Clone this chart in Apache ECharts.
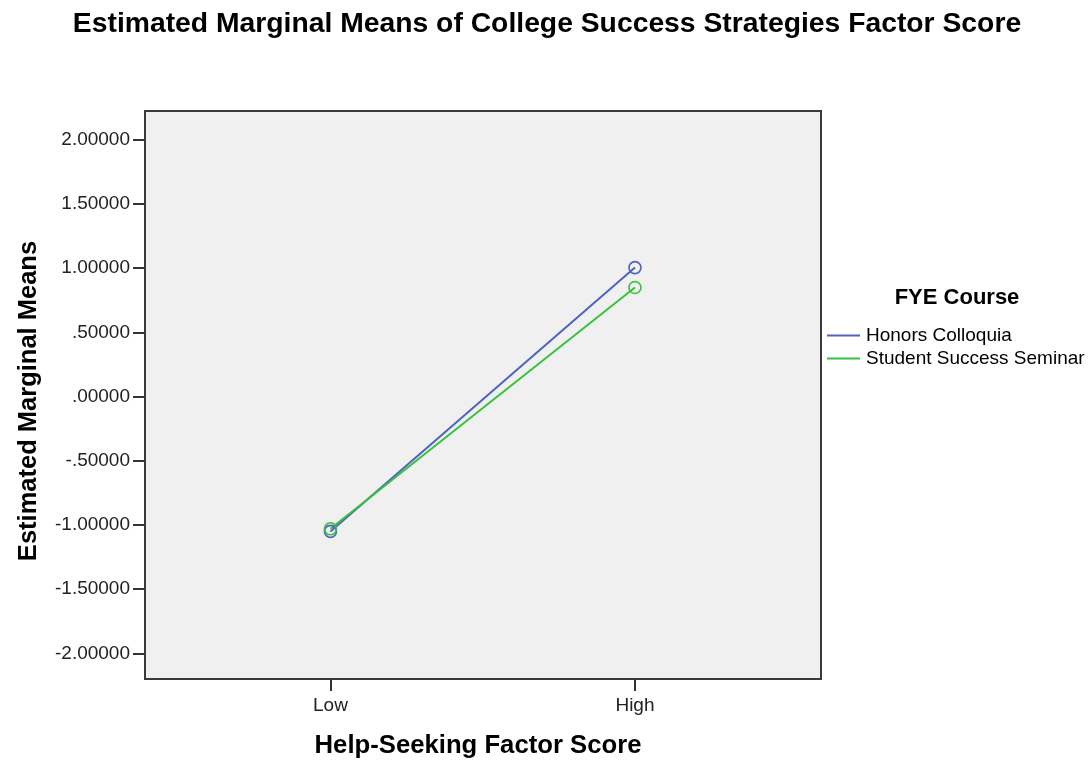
<!DOCTYPE html>
<html>
<head>
<meta charset="utf-8">
<script src="https://cdn.jsdelivr.net/npm/echarts@6/dist/echarts.min.js"></script>
<style>
    html,body{margin:0;padding:0;background:#fff;}
    #chart{width:1092px;height:764px;}
</style>
</head>
<body>
<div id="chart"></div>
<script>
    // data
    var xCategories=['Low','High'];
    var seriesNames=['Honors Colloquia','Student Success Seminar'];
    var honorsMeans=[-1.05,1.005];
    var seminarMeans=[-1.03,0.85];
    var yTicks=[-2,-1.5,-1,-0.5,0,0.5,1,1.5,2];

    var colors=['#4d63bf','#36c23f'];
    var font='"Liberation Sans", Arial, sans-serif';

    function spssFmt(v){
        return v.toFixed(5).replace(/^(-?)0\./,'$1.');
    }
    function toPoints(vals){
        return vals.map(function(v,i){return [i,v];});
    }

    var chart=echarts.init(document.getElementById('chart'));
    var option={
        backgroundColor:'#fff',
        animation:false,
        title:{
            text:'Estimated Marginal Means of College Success Strategies Factor Score',
            left:542,
            textAlign:'center',
            top:5,
            textStyle:{fontFamily:font,fontSize:28.3,fontWeight:'bold',color:'#000'}
        },
        graphic:[{
            type:'text',
            x:957,
            y:298,
            style:{
                text:'FYE Course',
                x:0,y:0,
                align:'center',
                verticalAlign:'middle',
                font:'bold 22px '+font,
                fill:'#000'
            }
        }],
        legend:{
            orient:'vertical',
            left:827,
            top:324,
            padding:0,
            itemWidth:33,
            itemHeight:2,
            itemGap:0,
            icon:'rect',
            textStyle:{fontFamily:font,fontSize:19,color:'#000',lineHeight:23,padding:[0,0,0,1]},
            data:seriesNames.map(function(n,i){
                return {name:n,itemStyle:{color:colors[i],borderWidth:0}};
            })
        },
        grid:{
            left:145,top:111,width:676,height:570,
            show:true,
            backgroundColor:'#f0f0f0',
            borderColor:'#3a3a3a',
            borderWidth:2
        },
        xAxis:{
            type:'value',
            min:-0.609,
            max:1.611,
            name:'Help-Seeking Factor Score',
            nameLocation:'middle',
            nameGap:54,
            nameTextStyle:{fontFamily:font,fontSize:25.7,fontWeight:'bold',color:'#000',padding:[0,10,0,0]},
            axisLine:{show:false,onZero:false},
            splitLine:{show:false},
            axisTick:{show:true,length:12,lineStyle:{color:'#333',width:2},customValues:[0,1]},
            axisLabel:{
                customValues:[0,1],
                margin:17,
                fontFamily:font,fontSize:19,color:'#222',
                formatter:function(v){return xCategories[Math.round(v)];}
            }
        },
        yAxis:{
            type:'value',
            min:-2.2,
            max:2.225,
            name:'Estimated Marginal Means',
            nameLocation:'middle',
            nameGap:103,
            nameTextStyle:{fontFamily:font,fontSize:25.5,fontWeight:'bold',color:'#000',padding:[0,12,0,0]},
            axisLine:{show:false,onZero:false},
            splitLine:{show:false},
            axisTick:{show:true,length:12,lineStyle:{color:'#333',width:2},customValues:yTicks},
            axisLabel:{
                customValues:yTicks,
                margin:15,
                fontFamily:font,fontSize:19,color:'#222',
                formatter:function(v){return spssFmt(v);}
            }
        },
        series:[
            {
                name:seriesNames[0],
                type:'line',
                data:toPoints(honorsMeans),
                symbol:'circle',
                symbolSize:12,
                lineStyle:{color:colors[0],width:2},
                itemStyle:{color:'rgba(0,0,0,0)',borderColor:colors[0],borderWidth:1.6}
            },
            {
                name:seriesNames[1],
                type:'line',
                data:toPoints(seminarMeans),
                symbol:'circle',
                symbolSize:12,
                lineStyle:{color:colors[1],width:2},
                itemStyle:{color:'rgba(0,0,0,0)',borderColor:colors[1],borderWidth:1.6}
            }
        ]
    };
    chart.setOption(option);
    window.addEventListener('resize',chart.resize);
</script>
</body>
</html>
